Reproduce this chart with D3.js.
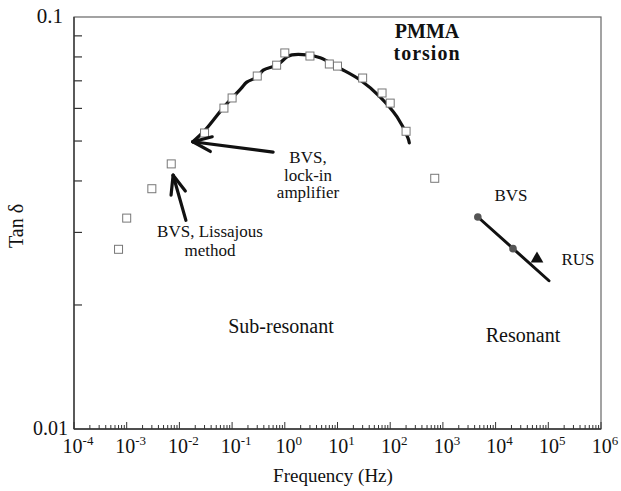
<!DOCTYPE html>
<html>
<head>
<meta charset="utf-8">
<script src="https://cdn.jsdelivr.net/npm/d3@7"></script>
<style>
  body { margin: 0; background: #fff; }
  svg text { font-family: 'Liberation Serif', 'Times New Roman', Times, 'DejaVu Serif', serif; fill: #111; }
</style>
</head>
<body>
<svg id="chart"></svg>
<script>
// Open squares: BVS measurements
let sqFreq = [7e-4, 1e-3, 3e-3, 7e-3, 0.03, 0.07, 0.1, 0.3, 0.7, 1, 3, 7, 10, 30, 70, 100, 200, 700];
let sqTan = [0.0273, 0.0325, 0.0383, 0.044, 0.0523, 0.0601, 0.0636, 0.0719, 0.0764, 0.0818,
             0.0804, 0.0769, 0.076, 0.0711, 0.0654, 0.0618, 0.0528, 0.0406];

// Thick curve: lock-in amplifier
let curveFreq = [0.018, 0.031, 0.067, 0.1, 0.15, 0.19, 0.3, 0.39, 0.71, 1.1, 1.37, 2.6, 4.7, 11, 27, 64, 135, 218, 230];
let curveTan = [0.0498, 0.0532, 0.0601, 0.0636, 0.0672, 0.0695, 0.0715, 0.0743, 0.0764, 0.080, 0.0809,
                0.0809, 0.0796, 0.0751, 0.0703, 0.064, 0.0572, 0.0508, 0.0495];

// Resonant BVS points and fit line, RUS point
let bvsFreq = [4600, 21400];
let bvsTan = [0.0327, 0.0274];
let fitFreq = [4600, 103000];
let fitTan = [0.0327, 0.0229];
let rusFreq = [61000];
let rusTan = [0.0259];

let xTickExp = [-4, -3, -2, -1, 0, 1, 2, 3, 4, 5, 6];

let width = 621, height = 491;
let margin = {top: 17, right: 20, bottom: 62, left: 74};
let serif = "'Liberation Serif', 'Times New Roman', Times, 'DejaVu Serif', serif";

let svg = d3.select('#chart').attr('width', width).attr('height', height)
    .attr('font-family', serif);

let x = d3.scaleLog().domain([1e-4, 1e6]).range([margin.left, width - margin.right]);
let y = d3.scaleLog().domain([0.01, 0.1]).range([height - margin.bottom, margin.top]);

// frame
svg.append('rect')
    .attr('x', margin.left).attr('y', margin.top)
    .attr('width', x(1e6) - x(1e-4)).attr('height', y(0.01) - y(0.1))
    .attr('fill', 'none').attr('stroke', '#666').attr('stroke-width', 1.2);

// y minor ticks (inside)
let yMinor = d3.range(2, 10).map(d => d / 100);
svg.append('g').selectAll('line').data(yMinor).enter().append('line')
    .attr('x1', margin.left).attr('x2', margin.left + 8)
    .attr('y1', d => y(d)).attr('y2', d => y(d))
    .attr('stroke', '#333').attr('stroke-width', 1.2);

// x ticks (inside, pointing up)
let xMinor = [];
for (let e = -4; e < 6; e++) {
    for (let m = 2; m <= 9; m++) xMinor.push(m * Math.pow(10, e));
}
svg.append('g').selectAll('line').data(xMinor).enter().append('line')
    .attr('x1', d => x(d)).attr('x2', d => x(d))
    .attr('y1', y(0.01)).attr('y2', y(0.01) - 4)
    .attr('stroke', '#333').attr('stroke-width', 1);
svg.append('g').selectAll('line').data(xTickExp).enter().append('line')
    .attr('x1', d => x(Math.pow(10, d))).attr('x2', d => x(Math.pow(10, d)))
    .attr('y1', y(0.01)).attr('y2', y(0.01) - 7)
    .attr('stroke', '#333').attr('stroke-width', 1);

// left and bottom axis lines darker
svg.append('line').attr('x1', margin.left).attr('x2', margin.left)
    .attr('y1', y(0.1)).attr('y2', y(0.01)).attr('stroke', '#333').attr('stroke-width', 1.3);
svg.append('line').attr('x1', x(1e-4)).attr('x2', x(1e6))
    .attr('y1', y(0.01)).attr('y2', y(0.01)).attr('stroke', '#333').attr('stroke-width', 1.3);

// x tick labels 10^n
let xLabels = svg.append('g').selectAll('text').data(xTickExp).enter().append('text')
    .attr('x', d => x(Math.pow(10, d)) + 4)
    .attr('y', 453)
    .attr('text-anchor', 'middle')
    .style('font-size', '20px');
xLabels.append('tspan').text('10');
xLabels.append('tspan').attr('dy', -8).style('font-size', '13px').text(d => d < 0 ? '-' + (-d) : d);

// y tick labels
svg.append('text').attr('x', 63).attr('y', 23).attr('text-anchor', 'end')
    .style('font-size', '21px').text('0.1');
svg.append('text').attr('x', 68).attr('y', 435).attr('text-anchor', 'end')
    .style('font-size', '20px').text('0.01');

// axis titles
svg.append('text').attr('x', 333).attr('y', 482).attr('text-anchor', 'middle')
    .style('font-size', '19px').text('Frequency (Hz)');
svg.append('text').attr('transform', 'translate(23,226) rotate(-90)')
    .attr('text-anchor', 'middle').style('font-size', '20px').text('Tan δ');

// lock-in curve
let line = d3.line().x(d => x(d[0])).y(d => y(d[1])).curve(d3.curveCatmullRom);
svg.append('path')
    .datum(curveFreq.map((f, i) => [f, curveTan[i]]))
    .attr('d', line)
    .attr('fill', 'none').attr('stroke', '#111').attr('stroke-width', 3.2)
    .attr('stroke-linecap', 'round');

// open squares
svg.append('g').selectAll('rect').data(sqFreq.map((f, i) => [f, sqTan[i]])).enter().append('rect')
    .attr('x', d => x(d[0]) - 4).attr('y', d => y(d[1]) - 4)
    .attr('width', 8).attr('height', 8)
    .attr('fill', '#fff').attr('stroke', '#777').attr('stroke-width', 1);

// resonant fit line
svg.append('path')
    .datum(fitFreq.map((f, i) => [f, fitTan[i]]))
    .attr('d', d3.line().x(d => x(d[0])).y(d => y(d[1])))
    .attr('stroke', '#111').attr('stroke-width', 3).attr('stroke-linecap', 'round');

// BVS resonant points
svg.append('g').selectAll('circle').data(bvsFreq.map((f, i) => [f, bvsTan[i]])).enter().append('circle')
    .attr('cx', d => x(d[0])).attr('cy', d => y(d[1])).attr('r', 3.8)
    .attr('fill', '#555');

// RUS triangle
svg.append('g').selectAll('path').data(rusFreq.map((f, i) => [f, rusTan[i]])).enter().append('path')
    .attr('d', d3.symbol().type(d3.symbolTriangle).size(70))
    .attr('transform', d => `translate(${x(d[0])},${y(d[1])})`)
    .attr('fill', '#111');

// annotation arrows: [tail, tip] in data coordinates
let arrows = [
    [[0.6, 0.047], [0.018, 0.0498]],
    [[0.0133, 0.0321], [0.0076, 0.0413]]
];
arrows.forEach(a => {
    let x0 = x(a[0][0]), y0 = y(a[0][1]), x1 = x(a[1][0]), y1 = y(a[1][1]);
    let ang = Math.atan2(y0 - y1, x0 - x1);
    let len = 20, spread = 0.38;
    let g = svg.append('g').attr('stroke', '#111').attr('stroke-width', 3.2)
        .attr('stroke-linecap', 'round').attr('fill', 'none');
    g.append('line').attr('x1', x0).attr('y1', y0).attr('x2', x1).attr('y2', y1);
    [ang - spread, ang + spread].forEach(t => {
        g.append('line').attr('x1', x1).attr('y1', y1)
            .attr('x2', x1 + len * Math.cos(t)).attr('y2', y1 + len * Math.sin(t));
    });
});

// text annotations
function label(lines, cx, y0, size, bold, lh) {
    let t = svg.append('text').attr('text-anchor', 'middle')
        .style('font-size', size + 'px').style('font-weight', bold ? 'bold' : 'normal');
    lines.forEach((s, i) => {
        t.append('tspan').attr('x', cx).attr('y', y0 + i * lh).text(s);
    });
    return t;
}
label(['PMMA'], 427, 38, 20, true, 0);
label(['torsion'], 427, 60, 20, true, 0).style('letter-spacing', '1px');
label(['BVS,', 'lock-in', 'amplifier'], 308, 163, 17, false, 17.5);
label(['BVS, Lissajous', 'method'], 210, 237, 17, false, 18.5);
label(['Sub-resonant'], 281, 333, 20, false, 0);
label(['Resonant'], 523, 342, 20, false, 0);
label(['BVS'], 511, 201, 17, false, 0);
label(['RUS'], 578, 265, 17, false, 0);
</script>
</body>
</html>
